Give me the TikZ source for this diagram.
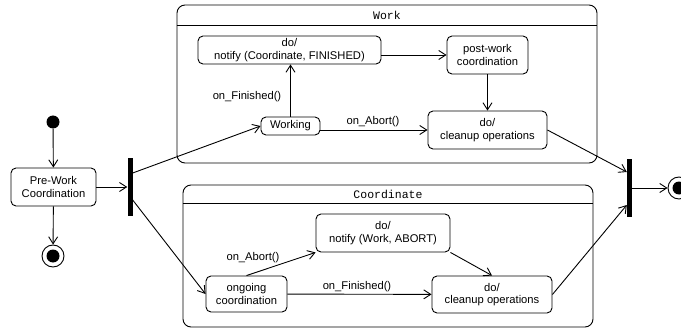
\documentclass[tikz,border=0pt]{standalone}
\usepackage{fontspec}
\setmainfont{Liberation Sans}
\setmonofont{Liberation Mono}
\usetikzlibrary{arrows.meta,positioning}

\begin{document}
\begin{tikzpicture}[x=1pt, y=-1pt,
  font=\fontsize{11.2}{12.3}\selectfont,
  sbox/.style={rectangle, rounded corners=5pt, draw, line width=0.9pt,
               align=center, inner sep=1pt},
  cbox/.style={rectangle, rounded corners=8pt, draw, line width=0.9pt},
  ctitle/.style={font=\ttfamily\fontsize{11.5}{12}\selectfont},
  bar/.style={rectangle, fill=black, minimum width=5pt, minimum height=58pt,
              inner sep=0pt},
  initst/.style={circle, fill=black, minimum size=13pt, inner sep=0pt},
  finst/.style={circle, draw, line width=0.9pt, minimum size=22pt, inner sep=0pt,
                path picture={\fill (path picture bounding box.center) circle (6.5pt);}},
  lbl/.style={inner sep=1pt},
  arr/.style={-{Straight Barb[length=7pt, width=9pt]}, line width=0.9pt}
]
\useasboundingbox (0,0) rectangle (681,329);

% Composite states
\node[cbox, minimum width=420pt, minimum height=158pt] (work) at (387,84) {};
\draw[line width=0.9pt] (work.west |- 0,25) -- (work.east |- 0,25);
\node[ctitle] (worktitle) at (387,15) {Work};

\node[cbox, minimum width=410pt, minimum height=142pt] (coord) at (388,256) {};
\draw[line width=0.9pt] (coord.west |- 0,203) -- (coord.east |- 0,203);
\node[ctitle] (coordtitle) at (388,194) {Coordinate};

% Start, pre-work and end (left)
\node[initst] (init) at (53,122) {};
\node[sbox, minimum width=85pt, minimum height=38pt] (prework) at (53.5,187)
  {Pre-Work\\Coordination};
\node[finst] (endleft) at (53,256) {};

% Fork and join bars
\node[bar] (fork) at (130,187) {};
\node[bar] (join) at (629.5,188) {};
\node[finst] (endright) at (679,188) {};

% Work states
\node[sbox, minimum width=183pt, minimum height=28pt] (notifyw) at (289.5,50)
  {do/\\notify (Coordinate, FINISHED)};
\node[sbox, minimum width=59pt, minimum height=18pt] (working) at (290.5,126) {Working};
\node[sbox, minimum width=81pt, minimum height=38pt] (postwork) at (487.5,55)
  {post-work\\coordination};
\node[sbox, minimum width=119pt, minimum height=38pt] (cleanw) at (487.5,130)
  {do/\\cleanup operations};

% Coordinate states
\node[sbox, minimum width=81pt, minimum height=36pt] (ongoing) at (246.5,294)
  {ongoing\\coordination};
\node[sbox, minimum width=134pt, minimum height=38pt] (notifyc) at (383,233)
  {do/\\notify (Work, ABORT)};
\node[sbox, minimum width=120pt, minimum height=37pt] (cleanc) at (492,294.5)
  {do/\\cleanup operations};

% Transition labels
\node[lbl] (wfin) at (247,97) {on\_Finished()};
\node[lbl] (wabort) at (373,122) {on\_Abort()};
\node[lbl] (cabort) at (253,258) {on\_Abort()};
\node[lbl] (cfin) at (357,287) {on\_Finished()};

% Arrows
\draw[arr] (init) -- (prework);
\draw[arr] (prework) -- (endleft);
\draw[arr] (prework) -- (fork);
\draw[arr] ([yshift=14pt]fork.east) -- (working.west);
\draw[arr] ([yshift=-13pt]fork.east) -- (ongoing.west);

\draw[arr] (working.north) -- (working.north |- notifyw.south);
\draw[arr] (working.east |- cleanw) -- (cleanw.west);
\draw[arr] (notifyw.east |- postwork) -- (postwork.west);
\draw[arr] (postwork) -- (cleanw);

\draw[arr] (ongoing.north) -- (notifyc.south west);
\draw[arr] (ongoing) -- (cleanc);
\draw[arr] (notifyc.south east) -- (cleanc.north);

\draw[arr] (cleanw.east) -- ([yshift=16pt]join.west);
\draw[arr] (cleanc.east) -- ([yshift=-17pt]join.west);
\draw[arr] (join) -- (endright);
\end{tikzpicture}
\end{document}
